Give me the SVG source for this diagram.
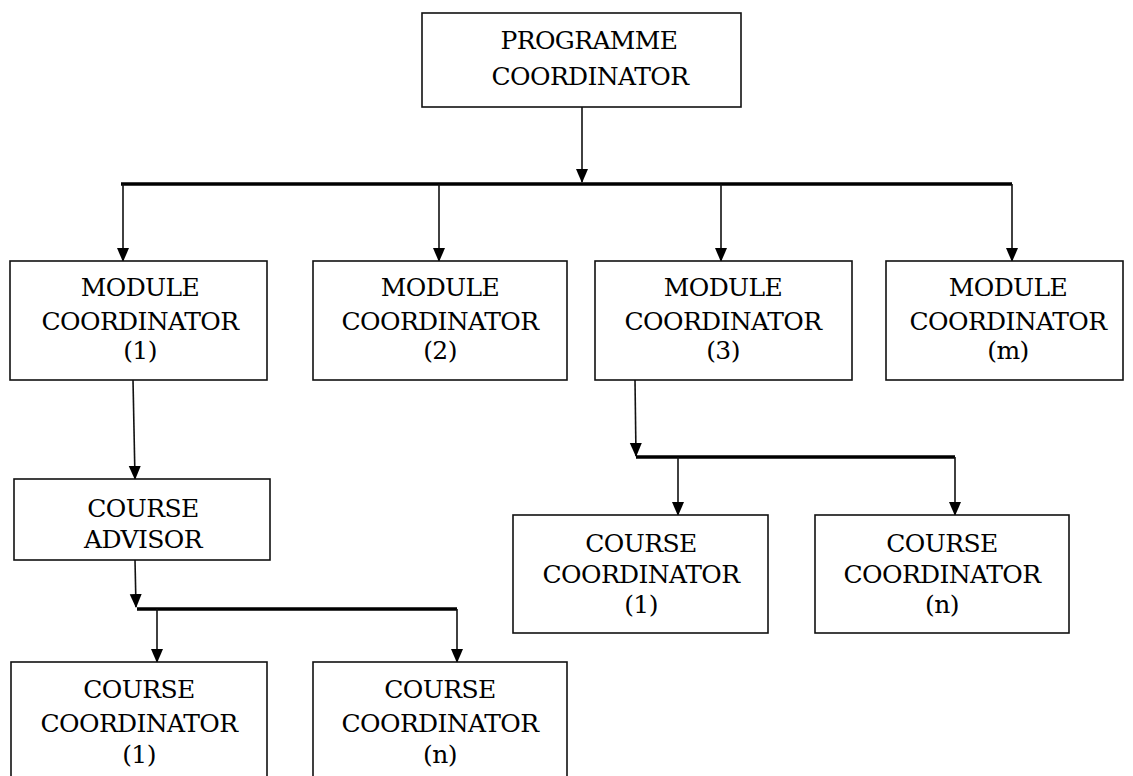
<svg xmlns="http://www.w3.org/2000/svg" width="1133" height="776" viewBox="0 0 1133 776">
<defs>
<style>
.box{fill:#fff;stroke:#111;stroke-width:1.6}
.t{font-family:'DejaVu Serif','Liberation Serif',serif;font-size:25px;fill:#000;text-anchor:middle;letter-spacing:-0.6px}
.ln{stroke:#111;stroke-width:1.6;fill:none}
.bus{stroke:#000;stroke-width:3.5;fill:none}
</style>
<marker id="ah" viewBox="0 0 14 13" markerWidth="14" markerHeight="13" refX="13" refY="6.5" orient="auto" markerUnits="userSpaceOnUse">
<path d="M0,0.5 L14,6.5 L0,12.5 Z" fill="#000"/>
</marker>
</defs>
<rect width="1133" height="776" fill="#fff"/>
<g id="connectors">
<line class="ln" x1="582" y1="107" x2="582" y2="182" marker-end="url(#ah)"/>
<path class="bus" d="M121,184 H1012"/>
<line class="ln" x1="123" y1="184" x2="123" y2="261" marker-end="url(#ah)"/>
<line class="ln" x1="439" y1="184" x2="439" y2="261" marker-end="url(#ah)"/>
<line class="ln" x1="721" y1="184" x2="721" y2="261" marker-end="url(#ah)"/>
<line class="ln" x1="1012" y1="184" x2="1012" y2="261" marker-end="url(#ah)"/>
<line class="ln" x1="133" y1="380" x2="135" y2="479" marker-end="url(#ah)"/>
<line class="ln" x1="135" y1="560" x2="136" y2="607" marker-end="url(#ah)"/>
<path class="bus" d="M137,609 H457"/>
<line class="ln" x1="157" y1="609" x2="157" y2="662" marker-end="url(#ah)"/>
<line class="ln" x1="457" y1="609" x2="457" y2="662" marker-end="url(#ah)"/>
<line class="ln" x1="635" y1="380" x2="636" y2="456" marker-end="url(#ah)"/>
<path class="bus" d="M636,457 H955"/>
<line class="ln" x1="678" y1="457" x2="678" y2="515" marker-end="url(#ah)"/>
<line class="ln" x1="955" y1="457" x2="955" y2="515" marker-end="url(#ah)"/>
</g>
<g id="programme">
<rect class="box" x="422" y="13" width="319" height="94"/>
<text class="t" x="589" y="49">PROGRAMME</text>
<text class="t" x="590" y="85">COORDINATOR</text>
</g>
<g id="module1">
<rect class="box" x="10" y="261" width="257" height="119"/>
<text class="t" x="140" y="296">MODULE</text>
<text class="t" x="140" y="330">COORDINATOR</text>
<text class="t" x="140" y="359">(1)</text>
</g>
<g id="module2">
<rect class="box" x="313" y="261" width="254" height="119"/>
<text class="t" x="440" y="296">MODULE</text>
<text class="t" x="440" y="330">COORDINATOR</text>
<text class="t" x="440" y="359">(2)</text>
</g>
<g id="module3">
<rect class="box" x="595" y="261" width="257" height="119"/>
<text class="t" x="723" y="296">MODULE</text>
<text class="t" x="723" y="330">COORDINATOR</text>
<text class="t" x="723" y="359">(3)</text>
</g>
<g id="modulem">
<rect class="box" x="886" y="261" width="237" height="119"/>
<text class="t" x="1008" y="296">MODULE</text>
<text class="t" x="1008" y="330">COORDINATOR</text>
<text class="t" x="1008" y="359">(m)</text>
</g>
<g id="advisor">
<rect class="box" x="14" y="479" width="256" height="81"/>
<text class="t" x="143" y="517">COURSE</text>
<text class="t" x="143" y="548">ADVISOR</text>
</g>
<g id="cc1-left">
<rect class="box" x="11" y="662" width="256" height="130"/>
<text class="t" x="139" y="698">COURSE</text>
<text class="t" x="139" y="732">COORDINATOR</text>
<text class="t" x="139" y="763">(1)</text>
</g>
<g id="ccn-left">
<rect class="box" x="313" y="662" width="254" height="130"/>
<text class="t" x="440" y="698">COURSE</text>
<text class="t" x="440" y="732">COORDINATOR</text>
<text class="t" x="440" y="763">(n)</text>
</g>
<g id="cc1-right">
<rect class="box" x="513" y="515" width="255" height="118"/>
<text class="t" x="641" y="552">COURSE</text>
<text class="t" x="641" y="583">COORDINATOR</text>
<text class="t" x="641" y="613">(1)</text>
</g>
<g id="ccn-right">
<rect class="box" x="815" y="515" width="254" height="118"/>
<text class="t" x="942" y="552">COURSE</text>
<text class="t" x="942" y="583">COORDINATOR</text>
<text class="t" x="942" y="613">(n)</text>
</g>
</svg>
